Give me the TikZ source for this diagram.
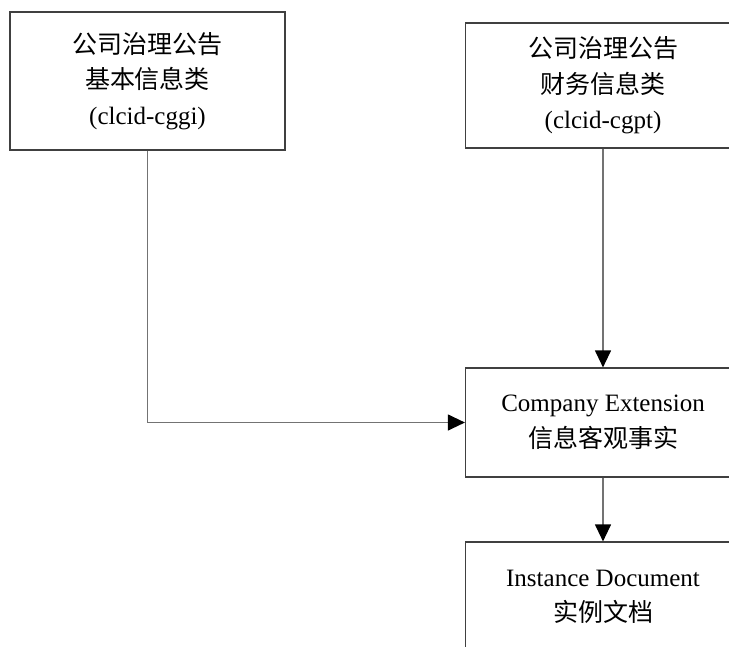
\documentclass[tikz,border=0pt]{standalone}
\usepackage{fontspec}
\setmainfont{Liberation Serif}
\newfontfamily\cjk{Noto Sans CJK SC}
\usepackage{tikz}
\usetikzlibrary{arrows.meta,positioning}

\begin{document}
\begin{tikzpicture}[->,>={Triangle[length=17pt,width=16pt,color=black]},
x=1pt,y=1pt,
node distance=174.5pt,
line width=1.2pt, draw=black!55]

\tikzstyle{box}=[rectangle, minimum width=275pt, text centered, align=center,
fill=white, draw=black!75, line width=1.2pt, text=black,
font=\fontsize{25}{35.5}\selectfont]

\useasboundingbox (0,0) rectangle (729,-646);
\clip (0,0) rectangle (729,-646);

%top boxes
\node[box, minimum height=138pt]
(gi) at (147.5,-81)
{{\cjk 公司治理公告}\\{\cjk 基本信息类}\\(clcid-cggi)};

\node[box, minimum height=125pt]
(gpt) at (603,-85.5)
{{\cjk 公司治理公告}\\{\cjk 财务信息类}\\(clcid-cgpt)};

\node[box, minimum height=109pt]
(ext) [below of=gpt, yshift=-162.5pt]
{Company Extension\\{\cjk 信息客观事实}};

\node[box, minimum height=110pt]
(inst) [below of=ext]
{Instance Document\\{\cjk 实例文档}};

\path[->, draw=black!55] (gi) |- (ext);
\path[->, draw=black!55] (gpt) edge (ext);
\path[->, draw=black!55] (ext) edge (inst);

\end{tikzpicture}
\end{document}
